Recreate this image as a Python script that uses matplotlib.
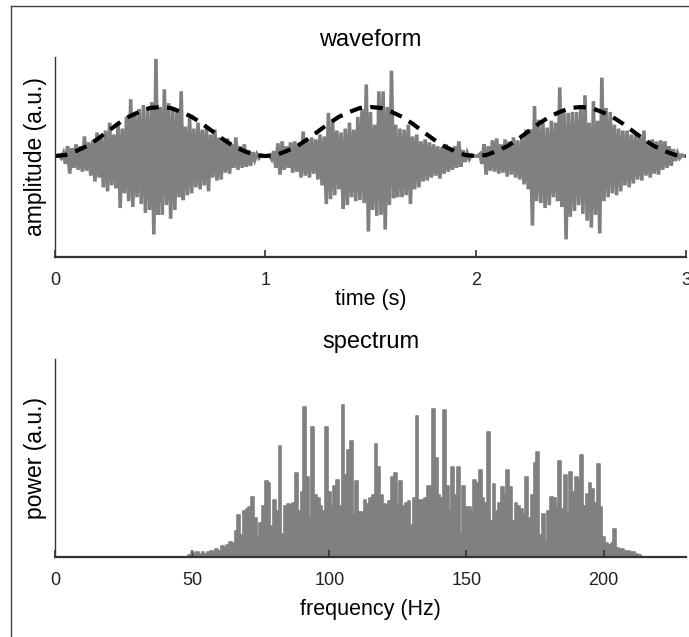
import numpy as np
import matplotlib
matplotlib.use("Agg")
import matplotlib.pyplot as plt
from matplotlib.lines import Line2D

plt.rcParams['font.family'] = ['Liberation Sans', 'DejaVu Sans']

# waveform: positive swings at 0.00, 0.02, ... s and negative swings at 0.01, 0.03, ... s
peaks_1 = [0.00, 0.01, 0.03, 0.10, 0.08, 0.12, 0.10, 0.20, 0.14, 0.16,
           0.24, 0.18, 0.26, 0.34, 0.22, 0.34, 0.28, 0.40, 0.58, 0.45,
           0.48, 0.52, 0.49, 0.55, 0.99, 0.50, 0.68, 0.54, 0.50, 0.45,
           0.66, 0.30, 0.39, 0.28, 0.34, 0.27, 0.29, 0.22, 0.27, 0.19,
           0.17, 0.18, 0.12, 0.19, 0.10, 0.12, 0.06, 0.04, 0.02, 0.01]
troughs_1 = [0.00, 0.02, 0.08, 0.18, 0.12, 0.14, 0.16, 0.15, 0.20, 0.26,
             0.22, 0.32, 0.36, 0.30, 0.33, 0.53, 0.38, 0.46, 0.52, 0.42,
             0.49, 0.58, 0.55, 0.80, 0.60, 0.60, 0.50, 0.64, 0.55, 0.42,
             0.45, 0.40, 0.38, 0.32, 0.34, 0.30, 0.36, 0.22, 0.25, 0.24,
             0.17, 0.18, 0.12, 0.14, 0.12, 0.11, 0.10, 0.04, 0.02, 0.00]
peaks_2 = [0.00, 0.01, 0.05, 0.13, 0.15, 0.10, 0.14, 0.15, 0.12, 0.25,
           0.16, 0.19, 0.17, 0.22, 0.20, 0.44, 0.36, 0.26, 0.24, 0.28,
           0.34, 0.27, 0.40, 0.48, 0.73, 0.45, 0.32, 0.66, 0.66, 0.50,
           0.87, 0.32, 0.28, 0.27, 0.32, 0.20, 0.22, 0.15, 0.17, 0.14,
           0.12, 0.10, 0.09, 0.12, 0.08, 0.10, 0.15, 0.06, 0.03, 0.01]
troughs_2 = [0.00, 0.03, 0.12, 0.19, 0.14, 0.12, 0.17, 0.16, 0.22, 0.20,
             0.22, 0.18, 0.24, 0.30, 0.49, 0.44, 0.40, 0.34, 0.54, 0.50,
             0.42, 0.46, 0.45, 0.48, 0.77, 0.55, 0.61, 0.60, 0.75, 0.50,
             0.43, 0.42, 0.42, 0.40, 0.49, 0.34, 0.32, 0.26, 0.25, 0.22,
             0.20, 0.23, 0.18, 0.16, 0.14, 0.12, 0.11, 0.06, 0.03, 0.00]
peaks_3 = [0.00, 0.02, 0.12, 0.10, 0.16, 0.18, 0.12, 0.17, 0.15, 0.19,
           0.16, 0.18, 0.27, 0.27, 0.51, 0.37, 0.34, 0.29, 0.36, 0.34,
           0.70, 0.46, 0.44, 0.45, 0.45, 0.50, 0.62, 0.34, 0.56, 0.36,
           0.80, 0.49, 0.45, 0.32, 0.28, 0.26, 0.26, 0.22, 0.22, 0.22,
           0.26, 0.15, 0.17, 0.15, 0.16, 0.15, 0.10, 0.07, 0.03, 0.01,
           0.00]
troughs_3 = [0.00, 0.08, 0.19, 0.15, 0.16, 0.18, 0.17, 0.21, 0.19, 0.22,
             0.24, 0.29, 0.34, 0.71, 0.46, 0.48, 0.53, 0.50, 0.42, 0.46,
             0.52, 0.85, 0.62, 0.56, 0.50, 0.59, 0.66, 0.73, 0.60, 0.79,
             0.46, 0.42, 0.38, 0.40, 0.36, 0.30, 0.32, 0.28, 0.24, 0.25,
             0.20, 0.22, 0.18, 0.19, 0.14, 0.12, 0.10, 0.05, 0.02, 0.00]

# envelope, every 0.05 s
envelope = [0.00, 0.01, 0.05, 0.10, 0.17, 0.25, 0.33, 0.40, 0.45, 0.49,
            0.50, 0.49, 0.45, 0.40, 0.33, 0.25, 0.17, 0.10, 0.05, 0.01,
            0.00, 0.01, 0.05, 0.10, 0.17, 0.25, 0.33, 0.40, 0.45, 0.49,
            0.50, 0.49, 0.45, 0.40, 0.33, 0.25, 0.17, 0.10, 0.05, 0.01,
            0.00, 0.01, 0.05, 0.10, 0.17, 0.25, 0.33, 0.40, 0.45, 0.49,
            0.50, 0.49, 0.45, 0.40, 0.33, 0.25, 0.17, 0.10, 0.05, 0.01,
            0.00]

# spectrum, 1 Hz steps from 45 to 214 Hz
spec_start = 45
power = [0.00, 0.00, 0.00, 0.00, 0.01, 0.03, 0.02, 0.03, 0.02, 0.03,
         0.02, 0.03, 0.04, 0.03, 0.05, 0.04, 0.07, 0.06, 0.08, 0.10,
         0.09, 0.17, 0.27, 0.14, 0.30, 0.31, 0.32, 0.39, 0.25, 0.12,
         0.22, 0.33, 0.49, 0.48, 0.20, 0.37, 0.30, 0.72, 0.15, 0.33,
         0.34, 0.33, 0.35, 0.54, 0.30, 0.42, 0.97, 0.52, 0.25, 0.84,
         0.40, 0.38, 0.33, 0.30, 0.84, 0.42, 0.33, 0.46, 0.50, 0.33,
         0.98, 0.53, 0.69, 0.75, 0.27, 0.49, 0.29, 0.29, 0.37, 0.34,
         0.38, 0.40, 0.73, 0.58, 0.40, 0.34, 0.33, 0.36, 0.52, 0.54,
         0.34, 0.49, 0.33, 0.35, 0.36, 0.21, 0.38, 0.91, 0.37, 0.37,
         0.38, 0.46, 0.46, 0.96, 0.64, 0.40, 0.38, 0.95, 0.46, 0.30,
         0.58, 0.40, 0.58, 0.15, 0.46, 0.32, 0.32, 0.30, 0.50, 0.48,
         0.56, 0.38, 0.35, 0.81, 0.23, 0.47, 0.30, 0.35, 0.45, 0.40,
         0.56, 0.45, 0.23, 0.35, 0.33, 0.31, 0.27, 0.52, 0.25, 0.40,
         0.61, 0.68, 0.14, 0.28, 0.10, 0.30, 0.39, 0.38, 0.32, 0.62,
         0.31, 0.53, 0.28, 0.55, 0.42, 0.52, 0.50, 0.66, 0.33, 0.41,
         0.48, 0.44, 0.35, 0.60, 0.32, 0.13, 0.09, 0.08, 0.09, 0.18,
         0.06, 0.05, 0.05, 0.04, 0.04, 0.03, 0.03, 0.02, 0.01, 0.00]

time_ticks = [0, 1, 2, 3]
freq_ticks = [0, 50, 100, 150, 200]
f_max = 230

gris = '#808080'
eje = '#333333'

peaks = np.array(peaks_1 + peaks_2 + peaks_3)
troughs = np.array(troughs_1 + troughs_2 + troughs_3)
wave = np.empty(len(peaks) + len(troughs))
wave[0::2] = peaks
wave[1::2] = -troughs
t = np.linspace(0, 3, len(wave))
t_env = np.linspace(0, 3, len(envelope))

freq = np.arange(spec_start, spec_start + len(power))
freq = np.concatenate(([0, spec_start - 1], freq, [freq[-1] + 1, f_max]))
pw = np.concatenate(([0, 0], power, [0, 0]))

fig = plt.figure(figsize=(6.89, 6.37), dpi=100)
ax1 = fig.add_axes([0.0798, 0.5965, 0.9158, 0.314])
ax2 = fig.add_axes([0.0798, 0.1256, 0.9158, 0.3108])

ax1.plot(t, wave, color=gris, lw=2.6, solid_joinstyle='miter')
ax1.plot(t_env, envelope, color='black', lw=3, dashes=(3, 2))
ax1.set_xlim(0, 3)
ax1.set_ylim(-1.03, 1.01)
ax1.set_xticks(time_ticks)
ax1.set_title('waveform', fontsize=17, pad=8)
ax1.set_xlabel('time (s)', fontsize=15.5, labelpad=0)
ax1.set_ylabel('amplitude (a.u.)', fontsize=16.5, labelpad=6)

ax2.fill_between(freq, 0, pw, step='mid', color=gris, lw=0)
ax2.plot(freq, pw, color=gris, lw=1.2, drawstyle='steps-mid')
ax2.set_xlim(0, f_max)
ax2.set_ylim(0, 1.28)
ax2.set_xticks(freq_ticks)
ax2.set_title('spectrum', fontsize=17, pad=8)
ax2.set_xlabel('frequency (Hz)', fontsize=15.5, labelpad=7)
ax2.set_ylabel('power (a.u.)', fontsize=16.5, labelpad=6)

for ax in (ax1, ax2):
    ax.spines['top'].set_visible(False)
    ax.spines['right'].set_visible(False)
    ax.spines['left'].set_color(eje)
    ax.spines['left'].set_linewidth(1.0)
    ax.spines['bottom'].set_color(eje)
    ax.spines['bottom'].set_linewidth(1.6)
    ax.set_yticks([])
    ax.tick_params(axis='x', direction='in', length=5, width=1.2, color=eje,
                   labelsize=13, pad=11, labelcolor='#222222')

# marco de la captura
fig.add_artist(Line2D([11 / 689, 11 / 689], [0, 1 - 6 / 637], color='#444444', lw=1))
fig.add_artist(Line2D([11 / 689, 1], [1 - 6 / 637, 1 - 6 / 637], color='#444444', lw=1))

fig.savefig('out.png', dpi=100)
